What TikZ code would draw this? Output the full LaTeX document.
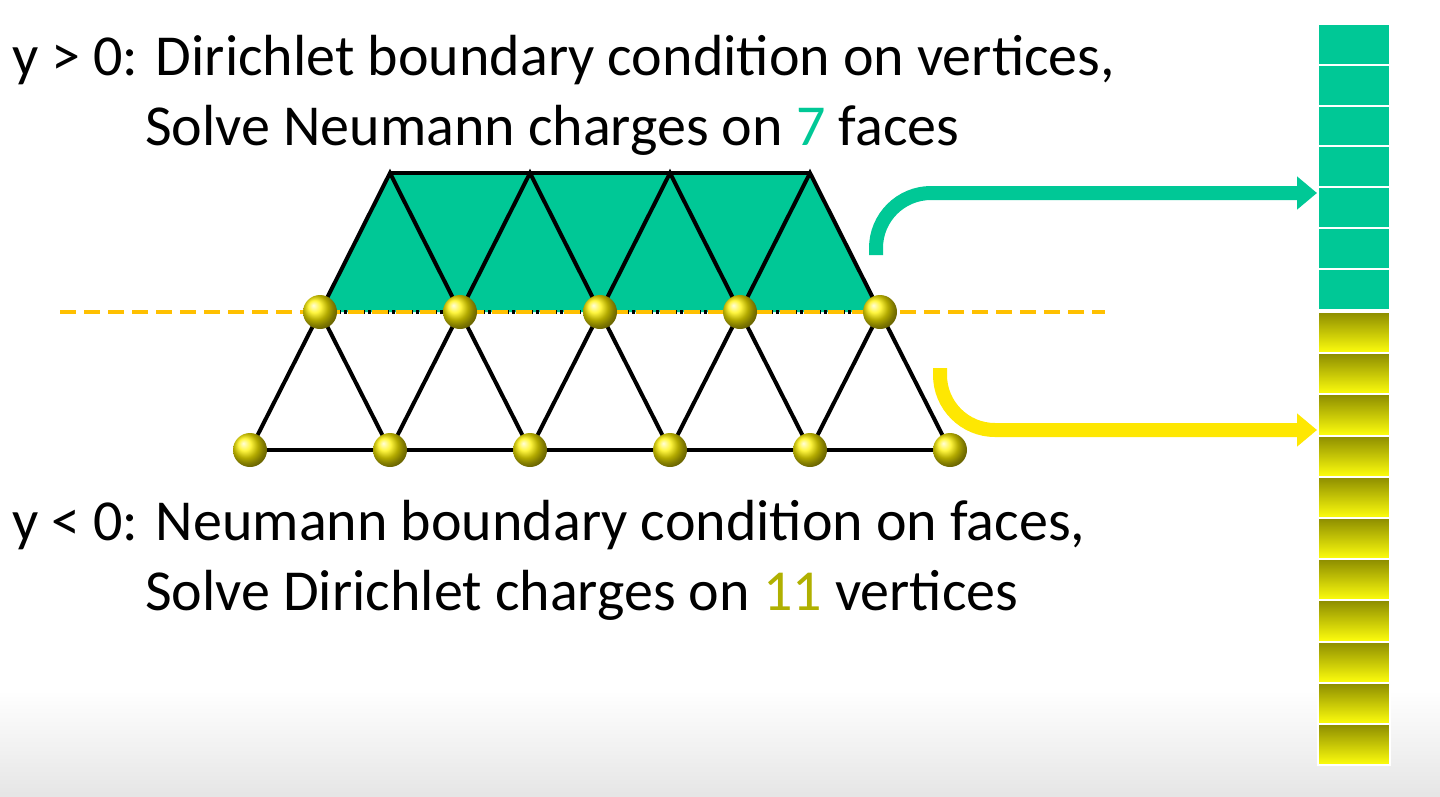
\documentclass[tikz,border=0pt]{standalone}
\usepackage{fontspec}
\setmainfont{Carlito}
\usetikzlibrary{arrows.meta}
\definecolor{facegreen}{HTML}{00C896}
\definecolor{dashorange}{HTML}{FFC000}
\definecolor{numolive}{HTML}{B0B000}
\tikzset{
  vertex/.style={circle, inner sep=0pt, minimum size=34pt, shading=ball, ball color=yellow!90!orange},
  edge/.style={line width=4pt, black},
  greenbox/.style={fill=facegreen, draw=white, line width=2pt},
  yellowbox/.style={top color=numolive!80!black, bottom color=yellow!95!white, draw=white, line width=2pt},
  label/.style={anchor=west, inner sep=0pt, font=\fontsize{58}{66}\selectfont}
}
\begin{document}
\begin{tikzpicture}[x=1pt, y=-1pt]
\useasboundingbox (0,0) rectangle (1440,796);
\shade[top color=white, bottom color=black!10] (0,690) rectangle (1440,796);

% faces above the line
\fill[facegreen] (320,312) -- (390,173) -- (810,173) -- (880,312) -- cycle;

% edges
\draw[edge] (390,173) -- (810,173);
\foreach \x in {320,460,600,740} {
  \draw[edge] (\x,312) -- (\x+70,173) -- (\x+140,312);
}
\foreach \x in {250,390,530,670,810} {
  \draw[edge] (\x,450) -- (\x+70,312) -- (\x+140,450);
}
\draw[edge] (250,450) -- (950,450);
\draw[edge, dashed] (320,312) -- (880,312);
\draw[dashorange, line width=4pt, dash pattern=on 16pt off 8pt] (60,312) -- (1105,312);

% vertices
\foreach \x [count=\i] in {320,460,600,740,880} {
  \node[vertex] (m\i) at (\x,312) {};
}
\foreach \x [count=\i] in {250,390,530,670,810,950} {
  \node[vertex] (b\i) at (\x,450) {};
}

% charge column
\foreach \i in {0,...,6} {
  \node[greenbox, minimum width=72pt, minimum height=40.8pt, inner sep=0pt] (g\i) at (1354,44.4+\i*40.8) {};
}
\foreach \i in {0,...,10} {
  \node[yellowbox, minimum width=72pt, minimum height=41.2pt, inner sep=0pt] (y\i) at (1354,332.6+\i*41.2) {};
}

% arrows
\coordinate (gs) at (876,255);
\coordinate (ys) at (940,368);
\draw[facegreen, line width=14pt, rounded corners=55pt, -{Triangle[length=20pt, width=32pt]}]
  (gs) -- (876,193) -- (g4.west |- 0,193);
\draw[yellow!90!orange, line width=14pt, rounded corners=55pt, -{Triangle[length=20pt, width=32pt]}]
  (ys) -- (940,430) -- (y3.west |- 0,430);

% texts
\node[label] (t1) at (12,60) {y > 0: Dirichlet boundary condition on vertices,};
\node[label] (t2) at (145,130) {Solve Neumann charges on \textcolor{facegreen}{7} faces};
\node[label] (t3) at (12,525) {y < 0: Neumann boundary condition on faces,};
\node[label] (t4) at (145,595) {Solve Dirichlet charges on \textcolor{numolive}{11} vertices};
\end{tikzpicture}
\end{document}
